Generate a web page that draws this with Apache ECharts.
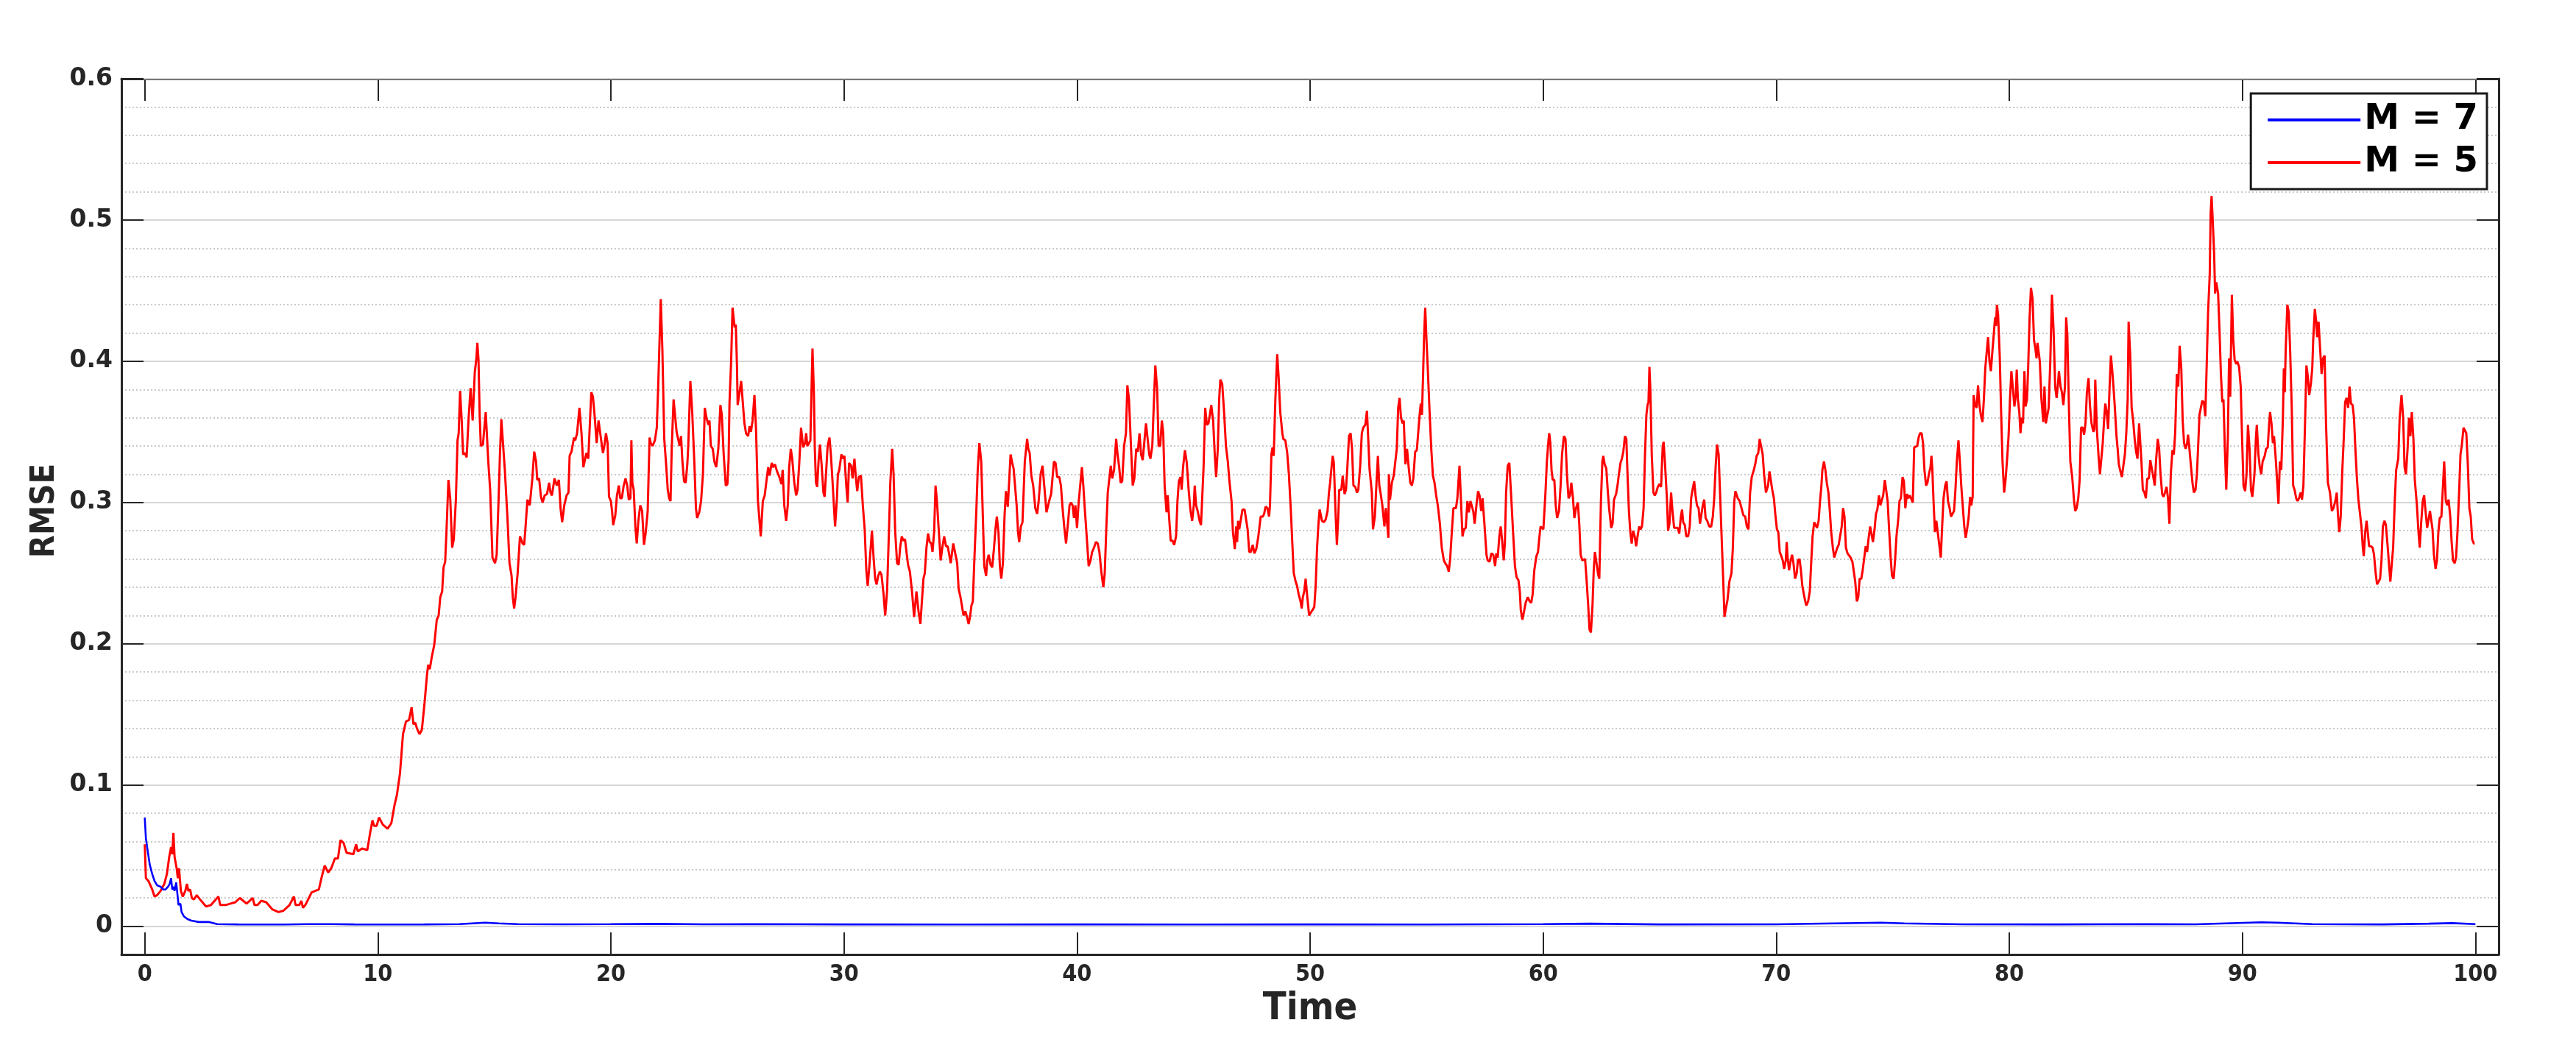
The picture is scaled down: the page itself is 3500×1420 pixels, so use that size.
<!DOCTYPE html>
<html><head><meta charset="utf-8">
<script src="https://cdn.jsdelivr.net/npm/echarts@6/dist/echarts.min.js"></script>
<style>html,body{margin:0;padding:0;background:#fff}#c{width:3500px;height:1420px}</style>
</head><body><div id="c"></div>
<script>
const xTicks = [0,10,20,30,40,50,60,70,80,90,100];
const yTicks = [0,0.1,0.2,0.3,0.4,0.5,0.6];
const seriesNames = ['M = 7','M = 5'];
const xName = 'Time';
const yName = 'RMSE';

// M = 7 (blue): [time, RMSE]
const blueM7 = [[0,0.077],[0.05,0.062],[0.13,0.053],[0.21,0.044],[0.32,0.037],[0.42,0.032],[0.53,0.029],[0.68,0.028],[0.79,0.026],[0.89,0.026],[1.00,0.028],[1.07,0.030],[1.13,0.034],[1.18,0.026],[1.24,0.028],[1.28,0.025],[1.35,0.031],[1.40,0.023],[1.45,0.015],[1.53,0.016],[1.58,0.010],[1.68,0.007],[1.84,0.005],[2.00,0.004],[2.32,0.003],[2.74,0.003],[3.11,0.0015],[4,0.0013],[5,0.0012],[6,0.0012],[7,0.0015],[8,0.0015],[9,0.0013],[10,0.0012],[12,0.0013],[13.5,0.0015],[14.6,0.0025],[15.2,0.002],[16,0.0015],[18,0.0014],[20,0.0015],[22,0.0017],[24,0.0014],[26,0.0015],[30,0.0013],[35,0.0012],[40,0.0013],[45,0.0012],[50,0.0014],[55,0.0012],[60,0.0015],[62,0.0018],[65,0.0013],[70,0.0014],[74.5,0.0025],[75.5,0.002],[78,0.0014],[82,0.0013],[86,0.0015],[88,0.0014],[90.8,0.0028],[91.5,0.0025],[93,0.0015],[96,0.0013],[98,0.0018],[99,0.0022],[100,0.0015]];

// M = 5 (red): [time, RMSE], in pieces
const redA = [[0.00,0.058],[0.05,0.034],[0.16,0.032],[0.32,0.026],[0.42,0.021],[0.53,0.022],[0.68,0.025],[0.84,0.030],[0.95,0.037],[1.05,0.049],[1.13,0.056],[1.18,0.051],[1.23,0.066],[1.28,0.049],[1.37,0.041],[1.42,0.034],[1.47,0.041],[1.55,0.025],[1.63,0.021],[1.74,0.025],[1.81,0.030],[1.87,0.025],[1.95,0.026],[2.02,0.020],[2.11,0.019],[2.23,0.022],[2.37,0.019],[2.63,0.014],[2.84,0.015],[3.05,0.019],[3.16,0.021],[3.24,0.015],[3.47,0.015],[3.68,0.016],[3.89,0.017],[4.08,0.020],[4.37,0.016],[4.63,0.020],[4.71,0.015],[4.84,0.015],[5.00,0.018],[5.21,0.017],[5.47,0.012],[5.74,0.010],[5.95,0.011],[6.21,0.015],[6.40,0.021],[6.47,0.015],[6.63,0.015],[6.72,0.018],[6.79,0.013],[6.89,0.015],[7.16,0.024],[7.47,0.026],[7.58,0.034],[7.72,0.043],[7.87,0.038],[8.00,0.041],[8.16,0.048],[8.29,0.048],[8.40,0.061],[8.53,0.059],[8.66,0.052],[8.95,0.051],[9.07,0.058],[9.14,0.053],[9.32,0.055],[9.55,0.054],[9.66,0.065],[9.77,0.075],[9.84,0.071],[9.95,0.071],[10.05,0.077],[10.21,0.072],[10.42,0.069],[10.58,0.073],[10.72,0.086],[10.82,0.093],[10.95,0.108],[11.08,0.136],[11.21,0.145],[11.34,0.146],[11.45,0.155],[11.53,0.143],[11.61,0.144],[11.68,0.140],[11.79,0.136],[11.89,0.139],[12.00,0.157],[12.11,0.178],[12.16,0.185],[12.23,0.182],[12.32,0.191],[12.42,0.199],[12.53,0.217],[12.61,0.220],[12.68,0.233],[12.76,0.237],[12.82,0.254],[12.89,0.258],[12.95,0.281],[13.03,0.316],[13.11,0.302],[13.19,0.268],[13.26,0.274],[13.35,0.302],[13.42,0.344],[13.47,0.349],[13.53,0.379],[13.60,0.358],[13.66,0.334],[13.74,0.335],[13.81,0.332],[13.89,0.358],[13.98,0.381],[14.07,0.358],[14.16,0.392],[14.23,0.402],[14.27,0.413],[14.32,0.401],[14.37,0.362],[14.42,0.340],[14.51,0.341]];
const redB = [[14.63,0.364],[14.74,0.329],[14.82,0.309],[14.92,0.261],[15.03,0.257],[15.10,0.263],[15.18,0.301],[15.24,0.334],[15.30,0.359],[15.37,0.342],[15.45,0.323],[15.56,0.290],[15.65,0.257],[15.74,0.248],[15.79,0.233],[15.85,0.225],[15.91,0.233],[16.00,0.250],[16.10,0.276],[16.17,0.273],[16.21,0.271],[16.28,0.270],[16.34,0.283],[16.42,0.302],[16.52,0.298],[16.63,0.317],[16.71,0.336],[16.79,0.329],[16.84,0.316],[16.92,0.317],[17.00,0.304],[17.07,0.300],[17.16,0.305],[17.26,0.306],[17.35,0.314],[17.41,0.307],[17.47,0.305],[17.58,0.317],[17.68,0.312],[17.77,0.316],[17.84,0.296],[17.91,0.286],[18.00,0.298],[18.10,0.305],[18.18,0.307],[18.23,0.333],[18.31,0.336],[18.42,0.346],[18.47,0.344],[18.55,0.349],[18.65,0.367],[18.74,0.349],[18.82,0.325],[18.87,0.324],[18.95,0.335],[19.03,0.331],[19.08,0.349],[19.16,0.378],[19.23,0.375],[19.31,0.360],[19.39,0.342],[19.47,0.358],[19.56,0.347],[19.66,0.335],[19.72,0.340],[19.79,0.349],[19.86,0.342],[19.92,0.304],[20.00,0.301],[20.05,0.294],[20.10,0.284],[20.19,0.291],[20.26,0.305],[20.34,0.312],[20.40,0.303],[20.47,0.303],[20.55,0.312],[20.63,0.317],[20.70,0.312],[20.77,0.302],[20.84,0.303],[20.88,0.344],[20.92,0.314],[20.98,0.309],[21.05,0.283],[21.11,0.271],[21.18,0.287],[21.26,0.298],[21.34,0.294],[21.42,0.270],[21.49,0.278],[21.58,0.294],[21.66,0.346],[21.71,0.342],[21.79,0.340],[21.89,0.344],[21.97,0.353],[22.03,0.382],[22.14,0.444],[22.21,0.408],[22.29,0.345],[22.37,0.327],[22.44,0.309],[22.50,0.303],[22.56,0.301],[22.61,0.338],[22.69,0.373],[22.82,0.350],[22.88,0.349],[22.95,0.340],[23.01,0.347],[23.07,0.329],[23.14,0.315],[23.21,0.314],[23.28,0.327],[23.32,0.340],[23.41,0.386],[23.49,0.364],[23.58,0.329],[23.65,0.296],[23.70,0.289],[23.79,0.293],[23.87,0.301],[23.95,0.320],[24.03,0.367],[24.10,0.360],[24.18,0.355],[24.23,0.358],[24.29,0.340],[24.37,0.338],[24.44,0.329],[24.52,0.325],[24.61,0.338],[24.70,0.369],[24.76,0.362],[24.84,0.334],[24.93,0.312],[25.00,0.313],[25.05,0.330],[25.09,0.371],[25.16,0.400],[25.22,0.438],[25.31,0.424]];
const redC = [[25.36,0.426],[25.41,0.397],[25.44,0.369],[25.52,0.378],[25.59,0.386],[25.65,0.373],[25.73,0.356],[25.80,0.349],[25.89,0.347],[25.95,0.354],[26.01,0.350],[26.08,0.358],[26.16,0.376],[26.23,0.351],[26.31,0.301],[26.43,0.276],[26.52,0.301],[26.60,0.305],[26.68,0.316],[26.75,0.325],[26.81,0.319],[26.90,0.328],[26.96,0.325],[27.04,0.327],[27.13,0.322],[27.23,0.318],[27.32,0.313],[27.37,0.323],[27.44,0.298],[27.52,0.287],[27.59,0.298],[27.65,0.325],[27.72,0.338],[27.78,0.331],[27.87,0.314],[27.95,0.305],[28.01,0.309],[28.08,0.327],[28.16,0.353],[28.25,0.339],[28.33,0.342],[28.38,0.349],[28.43,0.340],[28.50,0.342],[28.56,0.344],[28.60,0.373],[28.65,0.409],[28.71,0.378],[28.75,0.338],[28.80,0.314],[28.85,0.311],[28.91,0.329],[28.97,0.341],[29.04,0.327],[29.12,0.307],[29.17,0.304],[29.23,0.320],[29.30,0.340],[29.38,0.346],[29.44,0.334],[29.52,0.312],[29.62,0.283],[29.70,0.303],[29.74,0.320],[29.80,0.323],[29.89,0.334],[29.96,0.331],[30.02,0.333],[30.10,0.312],[30.16,0.300],[30.22,0.328],[30.31,0.326],[30.37,0.317],[30.45,0.331],[30.52,0.316],[30.57,0.308],[30.64,0.318],[30.73,0.319],[30.81,0.298],[30.89,0.281],[30.96,0.252],[31.02,0.241],[31.10,0.257],[31.20,0.280],[31.28,0.259],[31.34,0.246],[31.40,0.242],[31.47,0.248],[31.54,0.251],[31.61,0.249],[31.70,0.235],[31.77,0.220],[31.85,0.237],[31.93,0.279],[31.99,0.314],[32.07,0.338],[32.13,0.320],[32.20,0.279],[32.28,0.257],[32.35,0.256],[32.41,0.268],[32.48,0.276],[32.55,0.273],[32.62,0.274],[32.69,0.264],[32.75,0.256],[32.83,0.251],[32.92,0.237],[33.01,0.219],[33.11,0.237],[33.20,0.223],[33.28,0.214],[33.34,0.215],[33.41,0.246],[33.47,0.250],[33.54,0.268],[33.61,0.278],[33.68,0.272],[33.75,0.271],[33.80,0.265],[33.87,0.279],[33.93,0.312],[33.99,0.301],[34.05,0.285],[34.15,0.259],[34.22,0.268],[34.30,0.276],[34.38,0.269],[34.45,0.269],[34.52,0.263],[34.58,0.257],[34.69,0.271],[34.75,0.270],[34.86,0.257],[34.92,0.239],[35.00,0.233],[35.07,0.226],[35.13,0.220],[35.21,0.223],[35.28,0.219],[35.35,0.214],[35.41,0.219],[35.47,0.227],[35.53,0.230],[35.59,0.257],[35.68,0.294],[35.74,0.323],[35.81,0.342],[35.89,0.329],[35.96,0.290],[36.02,0.255]];
const redD = [[36.10,0.248],[36.15,0.259],[36.21,0.263],[36.29,0.256],[36.36,0.254],[36.44,0.268],[36.50,0.281],[36.56,0.290],[36.63,0.279],[36.69,0.255],[36.75,0.246],[36.82,0.257],[36.89,0.290],[36.95,0.308],[37.03,0.297],[37.09,0.298],[37.15,0.334],[37.22,0.328],[37.28,0.324],[37.34,0.324],[37.41,0.298],[37.47,0.279],[37.52,0.272],[37.59,0.283],[37.66,0.286],[37.71,0.285],[37.76,0.329],[37.86,0.345],[37.91,0.338],[37.97,0.335],[38.04,0.319],[38.12,0.312],[38.21,0.296],[38.29,0.292],[38.35,0.300],[38.44,0.320],[38.52,0.326],[38.61,0.309],[38.69,0.293],[38.75,0.294],[38.82,0.302],[38.89,0.306],[38.94,0.307],[39.01,0.329],[39.08,0.328],[39.15,0.318],[39.24,0.318],[39.31,0.312],[39.38,0.296],[39.45,0.283],[39.53,0.271],[39.61,0.285],[39.68,0.298],[39.74,0.300],[39.81,0.298],[39.87,0.289],[39.93,0.298],[40.00,0.282],[40.07,0.300],[40.13,0.301],[40.21,0.325],[40.27,0.312],[40.34,0.294],[40.42,0.275],[40.50,0.255],[40.58,0.259],[40.65,0.265],[40.73,0.268],[40.81,0.272],[40.89,0.271],[40.96,0.265],[41.05,0.250],[41.13,0.240],[41.19,0.250],[41.26,0.283],[41.32,0.307],[41.38,0.316],[41.45,0.326],[41.51,0.317],[41.59,0.323],[41.68,0.345],[41.74,0.334],[41.81,0.325],[41.87,0.314],[41.94,0.315],[42.02,0.340],[42.10,0.349],[42.16,0.383],[42.23,0.373],[42.31,0.342],[42.39,0.312],[42.46,0.317],[42.54,0.338],[42.61,0.336],[42.68,0.349],[42.75,0.334],[42.82,0.330],[42.90,0.345],[42.96,0.356],[43.03,0.345],[43.10,0.334],[43.15,0.331],[43.23,0.340],[43.29,0.367],[43.36,0.397],[43.44,0.380],[43.50,0.340],[43.57,0.340],[43.64,0.358],[43.70,0.349],[43.76,0.312],[43.84,0.293],[43.89,0.305],[43.95,0.290],[44.02,0.273],[44.10,0.273],[44.17,0.270],[44.25,0.276],[44.31,0.301],[44.37,0.315],[44.44,0.318],[44.49,0.309],[44.55,0.325],[44.63,0.337],[44.71,0.328],[44.79,0.309],[44.87,0.294],[44.94,0.287],[45.01,0.298],[45.05,0.312],[45.11,0.298],[45.19,0.293],[45.26,0.287],[45.32,0.284],[45.38,0.285],[45.43,0.325],[45.50,0.367],[45.57,0.355],[45.64,0.356],[45.70,0.362],[45.76,0.369],[45.84,0.358],[45.91,0.334],[45.97,0.318],[46.04,0.338],[46.10,0.373],[46.15,0.387],[46.23,0.384],[46.31,0.364],[46.39,0.340],[46.47,0.329],[46.54,0.315],[46.63,0.301],[46.69,0.279],[46.77,0.267]];
const redE = [[46.83,0.283],[46.87,0.272],[46.91,0.287],[46.96,0.281],[47.02,0.287],[47.10,0.295],[47.19,0.295],[47.25,0.294],[47.32,0.281],[47.39,0.265],[47.46,0.265],[47.54,0.270],[47.61,0.264],[47.69,0.267],[47.78,0.276],[47.88,0.290],[47.97,0.290],[48.03,0.292],[48.09,0.297],[48.17,0.296],[48.24,0.290],[48.28,0.298],[48.34,0.334],[48.39,0.339],[48.44,0.333],[48.51,0.373],[48.59,0.405],[48.65,0.389],[48.72,0.364],[48.81,0.349],[48.85,0.345],[48.94,0.344],[49.02,0.335],[49.09,0.320],[49.17,0.296],[49.23,0.274],[49.30,0.250],[49.38,0.244],[49.44,0.241],[49.51,0.235],[49.59,0.230],[49.64,0.225],[49.69,0.233],[49.75,0.237],[49.81,0.246],[49.88,0.233],[49.96,0.220],[50.03,0.222],[50.11,0.224],[50.18,0.226],[50.24,0.241],[50.30,0.268],[50.36,0.285],[50.41,0.295],[50.46,0.296],[50.51,0.287],[50.59,0.286],[50.67,0.288],[50.75,0.294],[50.81,0.307],[50.86,0.314],[50.91,0.323],[50.97,0.333],[51.02,0.328],[51.09,0.294],[51.15,0.270],[51.21,0.290],[51.25,0.309],[51.34,0.309],[51.40,0.319],[51.48,0.306],[51.54,0.309],[51.60,0.325],[51.67,0.347],[51.74,0.349],[51.80,0.338],[51.86,0.312],[51.94,0.311],[52.01,0.307],[52.07,0.309],[52.15,0.326],[52.22,0.349],[52.28,0.353],[52.37,0.355],[52.44,0.365],[52.49,0.347],[52.55,0.324],[52.60,0.325],[52.65,0.307],[52.70,0.281],[52.78,0.290],[52.85,0.314],[52.91,0.333],[52.97,0.312],[53.04,0.305],[53.10,0.298],[53.19,0.283],[53.25,0.296],[53.30,0.296],[53.36,0.275],[53.38,0.320],[53.43,0.302],[53.51,0.314],[53.59,0.319],[53.65,0.320],[53.72,0.338],[53.78,0.367],[53.84,0.374],[53.90,0.360],[53.97,0.356],[54.02,0.358],[54.09,0.327],[54.16,0.338],[54.23,0.325],[54.30,0.314],[54.37,0.312],[54.43,0.317],[54.51,0.336],[54.58,0.337],[54.64,0.338],[54.70,0.362],[54.75,0.370],[54.80,0.362],[54.85,0.391],[54.89,0.417],[54.94,0.438],[54.99,0.417],[55.06,0.391],[55.12,0.367],[55.20,0.338],[55.27,0.319],[55.34,0.314],[55.41,0.305],[55.48,0.298],[55.57,0.285],[55.65,0.268],[55.74,0.259],[55.80,0.257],[55.88,0.255],[55.95,0.251],[56.01,0.260],[56.07,0.276],[56.15,0.296],[56.20,0.295],[56.26,0.296],[56.32,0.303],[56.41,0.326],[56.47,0.303],[56.54,0.276],[56.60,0.281],[56.68,0.282],[56.75,0.301],[56.81,0.293],[56.88,0.301],[56.94,0.302],[57.00,0.294],[57.06,0.285],[57.15,0.300],[57.21,0.308],[57.27,0.305],[57.34,0.294],[57.40,0.303],[57.48,0.285],[57.57,0.263]];
const redF = [[57.62,0.259],[57.70,0.258],[57.78,0.264],[57.86,0.263],[57.94,0.255],[57.99,0.264],[58.05,0.261],[58.12,0.276],[58.18,0.283],[58.24,0.273],[58.31,0.259],[58.36,0.272],[58.41,0.307],[58.48,0.326],[58.55,0.328],[58.62,0.307],[58.71,0.279],[58.79,0.255],[58.86,0.247],[58.94,0.245],[59.00,0.237],[59.04,0.224],[59.11,0.217],[59.17,0.222],[59.25,0.229],[59.34,0.233],[59.42,0.230],[59.49,0.229],[59.55,0.235],[59.62,0.252],[59.71,0.262],[59.78,0.265],[59.83,0.274],[59.89,0.283],[59.95,0.283],[60.01,0.281],[60.10,0.307],[60.16,0.329],[60.22,0.342],[60.26,0.349],[60.31,0.342],[60.36,0.323],[60.41,0.316],[60.48,0.316],[60.54,0.298],[60.60,0.289],[60.68,0.294],[60.75,0.312],[60.81,0.334],[60.89,0.347],[60.96,0.345],[61.02,0.320],[61.09,0.303],[61.15,0.305],[61.21,0.314],[61.28,0.303],[61.34,0.289],[61.41,0.296],[61.49,0.300],[61.55,0.285],[61.61,0.263],[61.68,0.259],[61.74,0.259],[61.80,0.260],[61.86,0.246],[61.93,0.228],[61.99,0.210],[62.05,0.208],[62.12,0.228],[62.17,0.252],[62.22,0.265],[62.29,0.257],[62.36,0.249],[62.41,0.246],[62.48,0.301],[62.54,0.329],[62.58,0.333],[62.64,0.327],[62.71,0.324],[62.77,0.309],[62.83,0.296],[62.92,0.282],[62.98,0.285],[63.04,0.302],[63.13,0.306],[63.20,0.313],[63.25,0.320],[63.32,0.328],[63.38,0.331],[63.44,0.336],[63.51,0.347],[63.57,0.345],[63.62,0.320],[63.68,0.294],[63.74,0.279],[63.80,0.271],[63.86,0.280],[63.93,0.276],[63.99,0.269],[64.05,0.276],[64.12,0.283],[64.18,0.281],[64.24,0.283],[64.31,0.296],[64.37,0.334],[64.43,0.362],[64.48,0.369],[64.52,0.371],[64.56,0.396],[64.60,0.380],[64.66,0.334],[64.73,0.307],[64.79,0.305],[64.85,0.307],[64.92,0.311],[64.99,0.313],[65.06,0.311],[65.13,0.340],[65.17,0.343],[65.23,0.327],[65.31,0.303],[65.36,0.280],[65.42,0.285],[65.49,0.307],[65.55,0.294],[65.62,0.282],[65.70,0.282],[65.78,0.282],[65.84,0.278],[65.91,0.290],[65.96,0.295],[66.01,0.286],[66.08,0.284],[66.14,0.276],[66.22,0.276],[66.29,0.283],[66.35,0.303],[66.41,0.309],[66.48,0.315],[66.54,0.305],[66.60,0.298],[66.67,0.296],[66.73,0.285],[66.79,0.284],[66.85,0.298],[66.91,0.302],[66.97,0.289],[67.04,0.287],[67.13,0.283],[67.21,0.283],[67.28,0.290],[67.34,0.303],[67.40,0.325],[67.46,0.341],[67.53,0.334],[67.59,0.307],[67.65,0.279],[67.72,0.248],[67.78,0.219],[67.84,0.225],[67.91,0.231],[67.99,0.244],[68.08,0.250],[68.14,0.268],[68.20,0.301],[68.25,0.308]];
const redG = [[68.30,0.308],[68.35,0.303],[68.43,0.301],[68.51,0.296],[68.59,0.291],[68.67,0.290],[68.74,0.283],[68.81,0.281],[68.88,0.307],[68.95,0.318],[69.04,0.323],[69.10,0.327],[69.16,0.333],[69.23,0.335],[69.29,0.345],[69.35,0.345],[69.42,0.334],[69.48,0.320],[69.56,0.307],[69.65,0.312],[69.71,0.322],[69.77,0.323],[69.83,0.309],[69.90,0.303],[69.96,0.292],[70.03,0.281],[70.09,0.279],[70.15,0.265],[70.22,0.262],[70.28,0.259],[70.34,0.253],[70.41,0.259],[70.45,0.272],[70.49,0.261],[70.55,0.252],[70.62,0.259],[70.68,0.263],[70.74,0.257],[70.81,0.246],[70.88,0.250],[70.93,0.259],[71.00,0.260],[71.06,0.252],[71.12,0.241],[71.21,0.233],[71.29,0.227],[71.37,0.230],[71.44,0.237],[71.50,0.257],[71.56,0.276],[71.63,0.286],[71.69,0.285],[71.75,0.282],[71.82,0.287],[71.88,0.301],[71.94,0.312],[71.98,0.323],[72.05,0.329],[72.11,0.323],[72.17,0.314],[72.24,0.307],[72.30,0.294],[72.36,0.279],[72.43,0.268],[72.49,0.261],[72.55,0.262],[72.62,0.268],[72.68,0.270],[72.74,0.271],[72.81,0.283],[72.87,0.296],[72.93,0.290],[72.99,0.268],[73.06,0.264],[73.12,0.263],[73.19,0.261],[73.27,0.258],[73.33,0.257],[73.39,0.244],[73.46,0.230],[73.52,0.233],[73.58,0.246],[73.65,0.246],[73.71,0.252],[73.77,0.253],[73.84,0.269],[73.90,0.265],[73.96,0.274],[74.03,0.283],[74.09,0.283],[74.15,0.272],[74.22,0.281],[74.28,0.292],[74.34,0.295],[74.41,0.305],[74.47,0.298],[74.53,0.298],[74.59,0.305],[74.66,0.316],[74.72,0.317],[74.78,0.301],[74.85,0.279],[74.91,0.261],[74.97,0.248],[75.04,0.246],[75.10,0.259],[75.16,0.276],[75.23,0.287],[75.29,0.301],[75.35,0.303],[75.42,0.318],[75.48,0.315],[75.54,0.296],[75.61,0.306],[75.67,0.303],[75.73,0.305],[75.79,0.304],[75.86,0.300],[75.92,0.339],[75.98,0.338],[76.05,0.340],[76.11,0.346],[76.17,0.349],[76.24,0.349],[76.30,0.342],[76.36,0.323],[76.43,0.312],[76.49,0.314],[76.55,0.320],[76.62,0.325],[76.66,0.333],[76.70,0.323],[76.75,0.301],[76.81,0.279],[76.87,0.287],[76.93,0.279],[76.99,0.271],[77.06,0.261],[77.12,0.283],[77.18,0.303],[77.25,0.312],[77.31,0.315],[77.37,0.301],[77.44,0.296],[77.50,0.290],[77.56,0.290],[77.63,0.294],[77.69,0.309],[77.75,0.329],[77.82,0.344],[77.88,0.329],[77.94,0.312],[78.01,0.296],[78.07,0.283],[78.13,0.275],[78.19,0.281],[78.26,0.290],[78.32,0.304],[78.37,0.298],[78.43,0.304],[78.47,0.376],[78.53,0.369],[78.60,0.367],[78.66,0.383],[78.72,0.369],[78.78,0.362],[78.85,0.357],[78.91,0.373],[78.97,0.395],[79.04,0.408]];
const redH = [[79.09,0.417],[79.15,0.400],[79.21,0.393],[79.27,0.406],[79.33,0.418],[79.39,0.431],[79.43,0.425],[79.47,0.440],[79.52,0.433],[79.59,0.404],[79.65,0.364],[79.71,0.329],[79.78,0.307],[79.84,0.316],[79.90,0.329],[79.97,0.347],[80.03,0.373],[80.09,0.393],[80.16,0.380],[80.22,0.368],[80.28,0.376],[80.32,0.394],[80.37,0.373],[80.43,0.364],[80.48,0.349],[80.53,0.360],[80.59,0.356],[80.65,0.393],[80.70,0.368],[80.76,0.373],[80.81,0.395],[80.87,0.430],[80.93,0.452],[81.00,0.444],[81.06,0.415],[81.12,0.409],[81.17,0.402],[81.21,0.413],[81.25,0.412],[81.31,0.400],[81.38,0.373],[81.46,0.357],[81.51,0.382],[81.57,0.356],[81.63,0.357],[81.69,0.367],[81.76,0.400],[81.83,0.447],[81.90,0.422],[81.97,0.382],[82.03,0.374],[82.09,0.384],[82.13,0.393],[82.20,0.382],[82.26,0.378],[82.32,0.369],[82.39,0.382],[82.44,0.431],[82.49,0.419],[82.56,0.367],[82.62,0.329],[82.70,0.318],[82.78,0.301],[82.83,0.294],[82.89,0.296],[82.96,0.303],[83.02,0.316],[83.08,0.353],[83.15,0.353],[83.21,0.348],[83.27,0.356],[83.33,0.378],[83.40,0.388],[83.46,0.369],[83.53,0.356],[83.61,0.350],[83.65,0.352],[83.69,0.387],[83.76,0.351],[83.83,0.333],[83.89,0.320],[83.95,0.331],[84.01,0.342],[84.07,0.359],[84.12,0.370],[84.18,0.364],[84.24,0.352],[84.30,0.380],[84.36,0.404],[84.41,0.395],[84.47,0.382],[84.53,0.367],[84.60,0.347],[84.65,0.338],[84.70,0.327],[84.77,0.322],[84.83,0.318],[84.89,0.319],[84.96,0.334],[85.02,0.349],[85.08,0.373],[85.12,0.428],[85.19,0.404],[85.25,0.367],[85.31,0.359],[85.38,0.345],[85.44,0.336],[85.50,0.331],[85.57,0.356],[85.61,0.356],[85.67,0.329],[85.73,0.309],[85.80,0.307],[85.86,0.303],[85.92,0.317],[85.99,0.317],[86.05,0.330],[86.11,0.329],[86.18,0.318],[86.24,0.312],[86.30,0.330],[86.37,0.345],[86.43,0.338],[86.49,0.320],[86.56,0.306],[86.62,0.304],[86.68,0.307],[86.75,0.311],[86.81,0.303],[86.87,0.285],[86.93,0.320],[87.00,0.337],[87.06,0.334],[87.12,0.350],[87.19,0.391],[87.25,0.382],[87.31,0.411],[87.38,0.395],[87.44,0.358],[87.50,0.342],[87.57,0.338],[87.63,0.342],[87.67,0.348],[87.73,0.338],[87.80,0.325],[87.86,0.314],[87.92,0.307],[87.99,0.309],[88.05,0.320],[88.11,0.342],[88.16,0.362],[88.22,0.361],[88.28,0.372],[88.35,0.371],[88.41,0.361],[88.47,0.397],[88.53,0.435],[88.60,0.461],[88.64,0.505],[88.68,0.517],[88.72,0.503],[88.79,0.476],[88.83,0.448],[88.88,0.456],[88.96,0.448],[89.02,0.422],[89.08,0.391],[89.14,0.371],[89.19,0.373],[89.25,0.338],[89.31,0.309],[89.38,0.347],[89.43,0.402],[89.48,0.375],[89.55,0.447],[89.61,0.415],[89.67,0.401],[89.74,0.398]];
const redI = [[89.78,0.400],[89.86,0.396],[89.93,0.382],[89.99,0.345],[90.05,0.312],[90.12,0.308],[90.18,0.320],[90.24,0.355],[90.31,0.338],[90.37,0.309],[90.43,0.304],[90.52,0.320],[90.58,0.345],[90.62,0.355],[90.69,0.334],[90.75,0.325],[90.81,0.320],[90.87,0.329],[90.96,0.333],[91.02,0.338],[91.09,0.339],[91.15,0.356],[91.19,0.364],[91.25,0.356],[91.31,0.342],[91.36,0.347],[91.42,0.334],[91.49,0.316],[91.55,0.299],[91.61,0.329],[91.67,0.323],[91.74,0.360],[91.78,0.395],[91.82,0.378],[91.86,0.408],[91.93,0.440],[91.99,0.435],[92.05,0.408],[92.12,0.367],[92.18,0.312],[92.24,0.309],[92.31,0.303],[92.37,0.301],[92.43,0.303],[92.50,0.307],[92.56,0.302],[92.62,0.312],[92.69,0.356],[92.75,0.397],[92.81,0.389],[92.87,0.376],[92.94,0.384],[93.00,0.395],[93.04,0.415],[93.11,0.437],[93.17,0.428],[93.21,0.417],[93.27,0.428],[93.34,0.408],[93.40,0.391],[93.46,0.402],[93.53,0.404],[93.59,0.356],[93.67,0.314],[93.76,0.307],[93.84,0.294],[93.91,0.296],[93.99,0.301],[94.05,0.307],[94.10,0.292],[94.16,0.279],[94.22,0.290],[94.29,0.323],[94.35,0.345],[94.41,0.371],[94.47,0.374],[94.54,0.367],[94.60,0.382],[94.66,0.370],[94.73,0.369],[94.79,0.360],[94.85,0.338],[94.92,0.316],[94.98,0.302],[95.04,0.301],[95.11,0.283],[95.17,0.268],[95.21,0.262],[95.27,0.279],[95.33,0.287],[95.38,0.279],[95.44,0.269],[95.51,0.269],[95.59,0.268],[95.65,0.263],[95.72,0.250],[95.78,0.242],[95.84,0.242],[95.91,0.246],[95.97,0.259],[96.03,0.283],[96.10,0.287],[96.16,0.284],[96.22,0.272],[96.29,0.257],[96.35,0.244],[96.41,0.243],[96.47,0.268],[96.54,0.301],[96.60,0.323],[96.69,0.331],[96.75,0.360],[96.83,0.376],[96.90,0.360],[96.96,0.325],[97.02,0.320],[97.09,0.338],[97.15,0.360],[97.21,0.347],[97.27,0.364],[97.34,0.345],[97.40,0.316],[97.49,0.298],[97.55,0.281],[97.61,0.268],[97.67,0.285],[97.74,0.301],[97.80,0.305],[97.86,0.294],[97.93,0.282],[97.99,0.281],[98.05,0.294],[98.10,0.295],[98.16,0.281],[98.22,0.263],[98.29,0.253],[98.35,0.259],[98.41,0.279],[98.47,0.289],[98.54,0.290],[98.60,0.309],[98.66,0.329],[98.73,0.301],[98.79,0.298],[98.85,0.302],[98.92,0.290],[98.98,0.272],[99.04,0.259],[99.11,0.257],[99.17,0.261],[99.23,0.279],[99.30,0.307],[99.36,0.334],[99.42,0.341],[99.49,0.353],[99.55,0.353],[99.61,0.349],[99.67,0.329],[99.74,0.296],[99.80,0.290],[99.86,0.274],[99.93,0.271],[99.97,0.271]];

const redM5 = [].concat(redA, redB, redC, redD, redE, redF, redG, redH, redI);

const ink = '#262626';
const boxLine = {show: true, onZero: false, lineStyle: {color: ink, width: 3}};
const tickStyle = {color: ink, width: 2};
const narrowFont = "'DejaVu Sans Condensed', 'Liberation Sans Narrow', 'DejaVu Sans', sans-serif";
const wideFont = "'DejaVu Sans', sans-serif";

const chart = echarts.init(document.getElementById('c'), null, {renderer: 'canvas'});
chart.setOption({
  animation: false,
  backgroundColor: '#ffffff',
  grid: {left: 165, right: 105, top: 107, bottom: 123, containLabel: false},
  legend: {
    data: seriesNames, orient: 'vertical', right: 121, top: 127,
    backgroundColor: '#ffffff', borderColor: '#1a1a1a', borderWidth: 3,
    padding: [11, 12, 11, 23], itemWidth: 126, itemHeight: 4, itemGap: 8,
    icon: 'rect',
    textStyle: {fontFamily: wideFont, fontWeight: 'bold', fontSize: 48, color: '#000', lineHeight: 50}
  },
  xAxis: [
    {type: 'value', min: -1, max: 101, position: 'bottom',
     name: xName, nameLocation: 'middle', nameGap: 42,
     nameTextStyle: {fontFamily: narrowFont, fontWeight: 'bold', fontSize: 52, color: ink},
     axisLine: boxLine,
     axisTick: {show: true, inside: true, length: 30, customValues: xTicks, lineStyle: tickStyle},
     axisLabel: {show: true, customValues: xTicks, margin: 12, fontFamily: narrowFont, fontWeight: 'bold', fontSize: 32, color: ink},
     splitLine: {show: false}},
    {type: 'value', min: -1, max: 101, position: 'top',
     axisLine: boxLine,
     axisTick: {show: true, inside: true, length: 30, customValues: xTicks, lineStyle: tickStyle},
     axisLabel: {show: false}, splitLine: {show: false}}
  ],
  yAxis: [
    {type: 'value', min: -0.02, max: 0.6, interval: 0.02, position: 'left', z: 1,
     name: yName, nameLocation: 'middle', nameGap: 72, nameRotate: 90,
     nameTextStyle: {fontFamily: narrowFont, fontWeight: 'bold', fontSize: 45, color: ink, padding: [0, 0, 0, 16]},
     axisLine: boxLine,
     axisTick: {show: true, inside: true, length: 30, customValues: yTicks, lineStyle: tickStyle},
     axisLabel: {show: true, customValues: yTicks, margin: 12, fontFamily: wideFont, fontWeight: 'bold', fontSize: 33, color: ink},
     splitLine: {show: true, lineStyle: {color: '#d6d6d6', width: 2, type: 'solid'}}},
    {type: 'value', min: -0.02, max: 0.6, interval: 0.02, position: 'right', z: 1,
     axisLine: boxLine,
     axisTick: {show: true, inside: true, length: 30, customValues: yTicks, lineStyle: tickStyle},
     axisLabel: {show: false}, splitLine: {show: false}},
    {type: 'value', min: -0.02, max: 0.6, interval: 0.02, position: 'left', z: 0,
     axisLine: {show: false}, axisTick: {show: false}, axisLabel: {show: false},
     splitLine: {show: true, lineStyle: {color: '#b8b8b8', width: 1.5, type: [2, 3]}}}
  ],
  series: [
    {name: seriesNames[0], type: 'line', xAxisIndex: 0, yAxisIndex: 0, data: blueM7,
     symbol: 'none', lineStyle: {color: '#0000ff', width: 2.6}, itemStyle: {color: '#0000ff'}, z: 4},
    {name: seriesNames[1], type: 'line', xAxisIndex: 0, yAxisIndex: 0, data: redM5,
     symbol: 'none', lineStyle: {color: '#ff0000', width: 3}, itemStyle: {color: '#ff0000'}, z: 3}
  ]
});
</script>
</body></html>
